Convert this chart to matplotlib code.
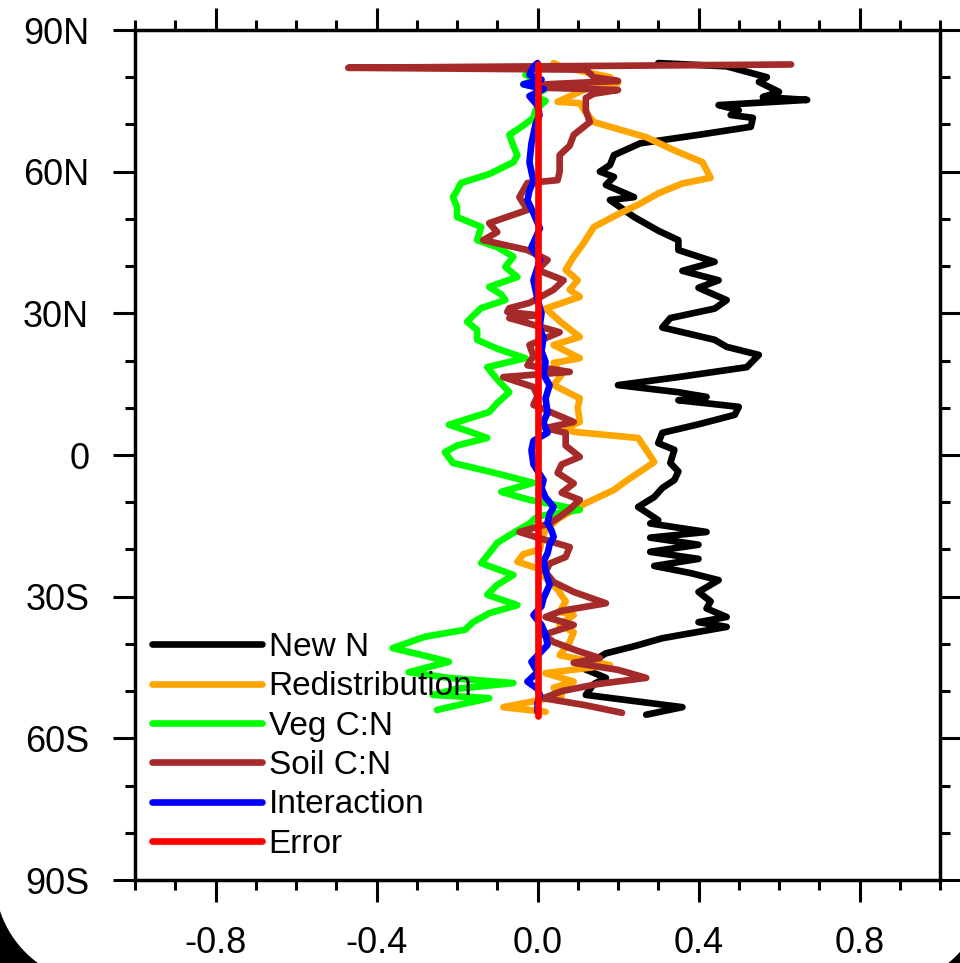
import numpy as np
import matplotlib
matplotlib.use("Agg")
import matplotlib.pyplot as plt
from matplotlib.patches import Polygon
from matplotlib.ticker import MultipleLocator, FixedLocator

plt.rcParams['font.family'] = ['Liberation Sans', 'DejaVu Sans']

# ===== DATA =====
lat_newn = [83.0, 82.3, 80.0, 79.0, 76.9, 75.8, 75.2, 74.1, 73.0, 72.0, 71.4, 69.5, 67.8, 66.0,
            63.5, 61.4, 60.0, 58.9, 57.2, 54.6, 54.0, 50.4, 47.5, 45.5, 43.4, 40.9, 39.0, 37.0,
            35.4, 32.8, 31.0, 29.0, 27.0, 24.4, 22.9, 21.2, 18.6, 16.5, 14.8, 13.3, 12.3, 11.6,
            10.2, 8.5, 6.5, 4.7, 2.5, 1.1, -1.7, -3.5, -5.3, -7.0, -8.9, -11.0, -13.8, -14.5,
            -16.3, -17.5, -19.0, -20.5, -22.0, -23.5, -25.0, -26.5, -29.0, -31.0, -32.5, -34.3,
            -35.4, -36.4, -38.8, -40.5, -42.0, -43.5, -44.9, -47.2, -48.5, -50.8, -53.4, -55.0]
new_n = [0.30, 0.47, 0.57, 0.55, 0.60, 0.56, 0.67, 0.45, 0.50, 0.48, 0.535, 0.53, 0.40, 0.255,
         0.19, 0.18, 0.155, 0.19, 0.17, 0.24, 0.18, 0.24, 0.30, 0.35, 0.35, 0.44, 0.36, 0.45,
         0.40, 0.47, 0.44, 0.33, 0.31, 0.44, 0.47, 0.55, 0.52, 0.35, 0.20, 0.35, 0.42, 0.35,
         0.50, 0.49, 0.40, 0.31, 0.30, 0.34, 0.33, 0.35, 0.34, 0.31, 0.29, 0.25, 0.30, 0.28,
         0.42, 0.28, 0.40, 0.28, 0.40, 0.29, 0.38, 0.45, 0.40, 0.43, 0.42, 0.47,
         0.40, 0.47, 0.31, 0.24, 0.17, 0.14, 0.105, 0.17, 0.14, 0.12, 0.36, 0.27]

lat_redis = [83.0, 82.2, 80.0, 78.8, 77.5, 74.8, 74.5, 72.5, 70.5, 67.3, 64.5, 62.0, 58.7, 57.5,
             55.4, 53.0, 51.2, 48.3, 44.9, 42.0, 39.2, 37.0, 35.0, 33.5, 31.0, 28.0, 25.0, 23.3,
             20.5, 19.5, 17.0, 14.8, 12.0, 10.0, 7.0, 5.7, 4.9, 3.6, 1.1, -1.5, -3.8, -5.5, -7.4,
             -10.2, -13.3, -15.9, -18.0, -20.0, -21.0, -22.6, -24.0, -26.0, -28.5, -31.0, -33.2,
             -33.9, -36.0, -37.5, -39.6, -42.4, -44.5, -46.2, -48.0, -49.3, -51.0, -53.4, -54.4]
redistribution = [0.04, 0.06, 0.18, 0.20, 0.12, 0.05, 0.105, 0.12, 0.14, 0.27, 0.34, 0.41, 0.43, 0.36,
                  0.30, 0.25, 0.205, 0.14, 0.115, 0.09, 0.07, 0.10, 0.08, 0.105, 0.02, 0.06, 0.105, 0.04,
                  0.105, 0.04, 0.06, 0.04, 0.105, 0.10, 0.105, 0.07, 0.09, 0.25, 0.27, 0.29, 0.25, 0.22, 0.19,
                  0.12, 0.055, 0.02, 0.01, 0.006, -0.035, -0.05, 0.0, 0.02, 0.05, 0.07, 0.055,
                  0.09, 0.055, 0.09, 0.08, 0.055, 0.18, 0.02, 0.09, 0.04, 0.06, -0.085, 0.02]

lat_veg = [80.5, 79.5, 78.5, 77.5, 76.0, 75.0, 73.0, 71.4, 69.5, 67.8, 65.5, 63.5, 62.0, 59.5,
           57.6, 56.0, 54.6, 52.5, 50.4, 48.3, 45.5, 44.0, 42.0, 39.8, 37.7, 35.6, 34.0, 32.8,
           31.1, 29.5, 28.2, 26.5, 24.4, 22.5, 20.5, 18.6, 16.0, 13.3, 11.0, 9.1, 6.4, 5.0, 3.6,
           2.0, 0.6, -1.7, -3.5, -5.9, -7.8, -9.5, -11.6, -13.0, -14.5, -16.5, -18.6, -20.8,
           -22.9, -25.4, -27.5, -29.6, -31.8, -33.5, -35.4, -37.0, -38.5, -40.9, -42.5, -43.8,
           -46.0, -47.2, -48.3, -49.5, -50.8, -51.5, -53.0, -54.0]
veg_cn = [-0.03, 0.0, -0.035, 0.02, -0.01, 0.02, -0.005, -0.01, -0.04, -0.07, -0.06, -0.05, -0.06, -0.12,
          -0.19, -0.20, -0.21, -0.20, -0.20, -0.14, -0.15, -0.10, -0.06, -0.08, -0.05, -0.12, -0.09, -0.08,
          -0.14, -0.16, -0.175, -0.15, -0.15, -0.10, -0.03, -0.125, -0.10, -0.07, -0.10, -0.12, -0.22, -0.17, -0.125,
          -0.20, -0.23, -0.21, -0.12, -0.01, -0.09, -0.02, 0.105, 0.0, -0.02, -0.06, -0.10, -0.12,
          -0.14, -0.06, -0.10, -0.125, -0.05, -0.12, -0.16, -0.18, -0.28, -0.36, -0.28, -0.22,
          -0.32, -0.22, -0.06, -0.20, -0.26, -0.12, -0.20, -0.25]

lat_soil = [82.7, 82.0, 81.6, 80.0, 79.2, 78.5, 77.8, 77.3, 76.5, 75.6, 73.0, 70.5, 67.8, 65.5,
            63.5, 60.0, 58.2, 57.6, 54.6, 51.9, 49.1, 47.2, 45.5, 43.4, 41.3, 39.2, 37.0, 35.0,
            32.2, 31.1, 30.3, 29.6, 29.0, 26.0, 23.3, 21.0, 19.0, 17.6, 16.5, 14.4, 12.5, 10.6,
            7.0, 5.7, 4.7, 2.0, -0.4, -2.0, -3.8, -6.0, -8.0, -9.5, -11.5, -13.1, -14.5, -16.3,
            -18.0, -19.5, -21.6, -23.0, -24.8, -26.9, -29.0, -31.4, -33.0, -34.3, -36.0, -38.1,
            -39.6, -41.5, -43.0, -44.0, -45.5, -47.2, -48.5, -50.0, -51.5, -53.0, -54.6]
soil_cn = [0.63, -0.47, 0.12, 0.14, 0.20, 0.02, 0.005, 0.20, 0.14, 0.12, 0.12, 0.13, 0.09, 0.08,
           0.055, 0.055, 0.05, -0.025, -0.045, -0.025, -0.12, -0.10, -0.135, -0.025, 0.025, 0.0, 0.065, 0.04,
           -0.02, -0.07, -0.075, 0.0, -0.07, 0.055, -0.02, -0.01, -0.025, 0.08, -0.085, -0.01, 0.0, -0.01,
           0.09, 0.02, 0.07, 0.07, 0.105, 0.06, 0.05, 0.09, 0.06, 0.105, 0.08, 0.055, 0.03, -0.045,
           0.02, 0.08, 0.07, 0.03, 0.02, 0.04, 0.09, 0.17, 0.06, 0.02, 0.09, 0.015,
           0.04, 0.10, 0.155, 0.09, 0.20, 0.27, 0.15, 0.06, 0.015, 0.12, 0.21]

lat_inter = [83.0, 82.2, 80.5, 79.5, 78.5, 77.5, 76.0, 74.0, 72.0, 70.0, 66.0, 62.0, 58.0, 56.0,
             54.0, 51.2, 48.0, 44.0, 41.3, 37.0, 33.0, 30.0, 27.0, 24.8, 22.0, 19.7, 17.0, 14.8,
             12.0, 9.0, 7.0, 5.7, 4.7, 3.0, 1.0, -2.0, -4.0, -5.3, -7.0, -9.0, -11.0, -12.5, -14.4,
             -16.0, -17.3, -19.0, -20.8, -22.5, -24.5, -27.5, -30.3, -32.0, -33.9, -36.0, -38.0,
             -40.2, -42.0, -43.8, -46.0, -48.0, -49.5, -50.8, -52.5, -54.4]
interaction = [0.0, -0.01, -0.02, 0.01, -0.035, 0.015, -0.02, 0.0, 0.005, -0.005, -0.015, -0.02, -0.01, -0.02,
               -0.025, -0.01, 0.006, -0.015, 0.006, -0.01, 0.0, 0.01, 0.005, 0.015, 0.01, 0.02, 0.015, 0.03,
               0.02, 0.025, 0.015, 0.02, 0.025, -0.01, -0.015, -0.01, 0.005, 0.015, 0.01, 0.02, 0.04, 0.03, 0.025,
               0.035, 0.04, 0.03, 0.025, 0.015, 0.02, 0.03, 0.015, 0.01, -0.01, 0.01, 0.02,
               0.025, 0.005, -0.015, 0.0, -0.025, 0.0, 0.006, 0.0, 0.0]

lat_err = [82.8, 82.0, 60.0, 30.0, 0.0, -30.0, -55.3]
error = [0.0, 0.0, 0.0, 0.0, 0.0, 0.0, 0.0]

series = [
    (lat_newn, new_n, "New N", "black"),
    (lat_redis, redistribution, "Redistribution", "orange"),
    (lat_veg, veg_cn, "Veg C:N", "#00ff00"),
    (lat_soil, soil_cn, "Soil C:N", "#a52a2a"),
    (lat_inter, interaction, "Interaction", "blue"),
    (lat_err, error, "Error", "red"),
]

xticks = [-0.8, -0.4, 0.0, 0.4, 0.8]
xlabels = ["-0.8", "-0.4", "0.0", "0.4", "0.8"]
yticks = [-90, -60, -30, 0, 30, 60, 90]
ylabels = ["90S", "60S", "30S", "0", "30N", "60N", "90N"]

# ===== PLOT =====
fig = plt.figure(figsize=(9.6, 9.63), dpi=100)
ax = fig.add_axes([135/960, 1 - 880/963, 805/960, 850/963])

for la, v, name, col in series:
    ax.plot(v, la, color=col, lw=4.8, label=name, solid_joinstyle='round', solid_capstyle='round')

ax.set_xlim(-1.0, 1.0)
ax.set_ylim(-90, 90)
ax.xaxis.set_major_locator(FixedLocator(xticks))
ax.xaxis.set_minor_locator(MultipleLocator(0.1))
ax.set_xticklabels(xlabels)
ax.yaxis.set_major_locator(FixedLocator(yticks))
ax.yaxis.set_minor_locator(MultipleLocator(10))
ax.set_yticklabels(ylabels)

ax.tick_params(which='both', direction='out', top=True, right=True, width=2.2, labelsize=26)
ax.tick_params(which='major', length=16, pad=17)
ax.tick_params(which='minor', length=7)
for s in ax.spines.values():
    s.set_linewidth(2.5)

ax.legend(loc='lower left', bbox_to_anchor=(0.021, 0.024), frameon=False, fontsize=24,
          handlelength=3.3, handletextpad=0.2, labelspacing=0.25, borderpad=0, borderaxespad=0)

# black rounded screen corners
cx, cy, r = 100, 878, 106
pts = [(0, 963)] + [(cx + r*np.cos(a), cy - r*np.sin(a)) for a in np.linspace(np.pi, 1.5*np.pi, 30)]
pts = [(x/960, 1 - y/963) for x, y in pts]
fig.add_artist(Polygon(pts, closed=True, color='black', transform=fig.transFigure))
cx, cy, r = 900, 900, 80
pts = [(960, 963)] + [(cx + r*np.cos(a), cy - r*np.sin(a)) for a in np.linspace(2*np.pi, 1.5*np.pi, 30)]
pts = [(x/960, 1 - y/963) for x, y in pts]
fig.add_artist(Polygon(pts, closed=True, color='black', transform=fig.transFigure))

fig.savefig("out.png", dpi=100)
